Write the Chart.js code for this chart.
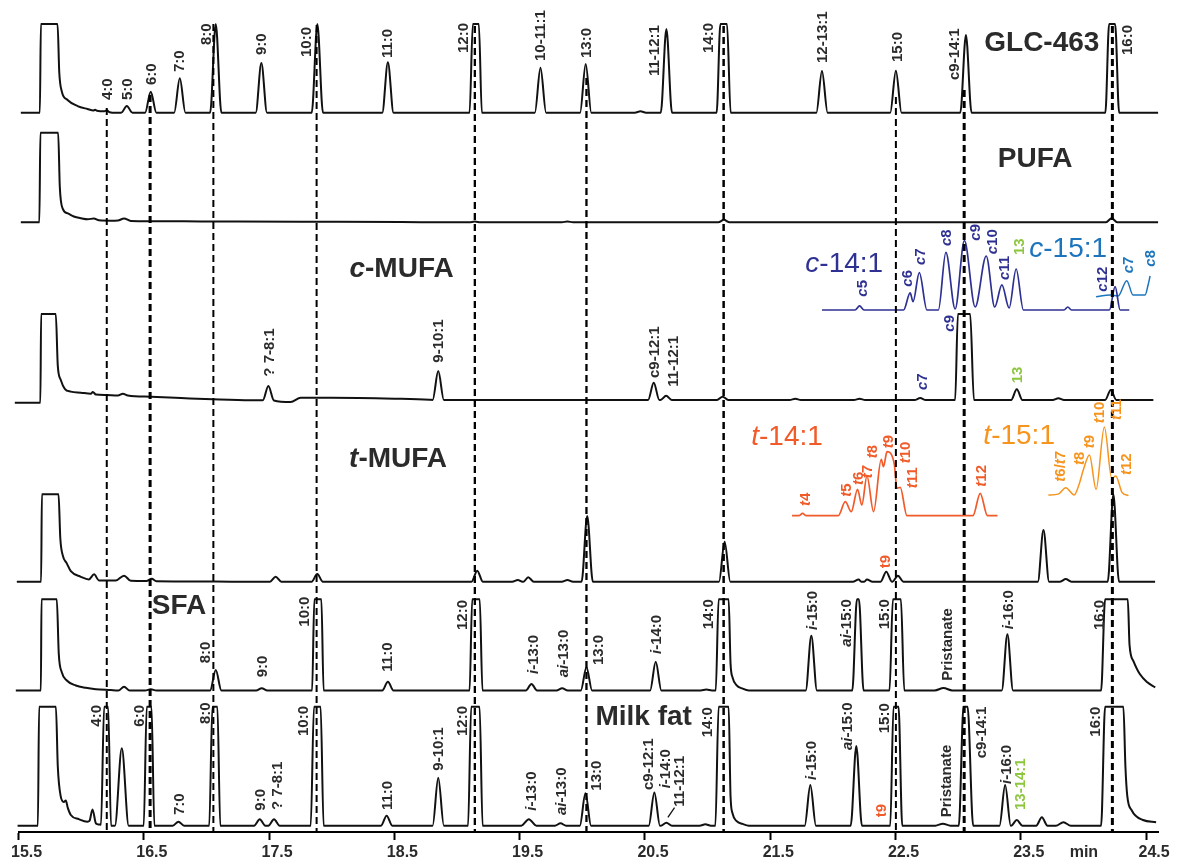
<!DOCTYPE html>
<html><head><meta charset="utf-8">
<script src="https://cdn.jsdelivr.net/npm/chart.js@4/dist/chart.umd.min.js"></script>
<style>html,body{margin:0;padding:0;background:#fff;overflow:hidden}canvas{display:block}</style>
</head><body>
<canvas id="c" width="1178" height="861"></canvas>
<script>
// ===================== DATA (retention time in min, relative intensity in % of full scale) =====================
const xTickValues = [15.5,16.5,17.5,18.5,19.5,20.5,21.5,22.5,23.5,24.5];
const xUnitLabel = 'min';
const traceNames = ['GLC-463','PUFA','c-MUFA','t-MUFA','SFA','Milk fat'];

// GLC-463 standard
const glcPoints = [[15.518,0],[15.670,0],[15.678,100],[15.811,100],[15.825,45],[15.845,24],[15.891,14.3],[15.971,7.5],[16.050,4.2],[16.098,2.6],[16.111,3.4],[16.126,2.2],[16.185,1.6],[16.204,2.8],[16.226,0.6],[16.280,0],
  [19.100,0],[19.126,100],[19.174,100],[19.198,0],
  [21.072,0],[21.102,100],[21.155,100],[21.184,0],
  [24.175,0],[24.205,100],[24.253,100],[24.285,0],[24.596,0]];
const glcPeaks = [[16.364,7.5],[16.555,23.7],[16.787,38.8],[17.074,100],[17.438,56],[17.885,100],[18.448,57],[19.666,50.7],[20.027,55],[20.464,1.5],[20.671,94.4],[21.913,47],[22.503,47.4],[23.062,87.6]];

// PUFA fraction
const pufaPoints = [[15.518,0],[15.666,0],[15.674,100],[15.816,100],[15.829,40],[15.853,15],[15.893,10],[15.941,6.5],[15.997,4.5],[16.053,3.3],[16.101,4.3],[16.141,2.2],[16.237,1.8],[16.293,2.0],[16.342,4.3],[16.396,1.5],[16.555,1.2],[16.954,1.0],[17.752,0.6],[18.552,0.3],[18.950,0],[24.596,0]];
const pufaPeaks = [[19.142,0.8],[19.881,1.0],[21.130,2.8],[24.225,4.5]];

// c-MUFA fraction
const cmufaPoints = [[15.470,-3.1],[15.674,-3.1],[15.680,100],[15.797,100],[15.813,40],[15.837,23.3],[15.869,13],[15.917,9.7],[15.997,8.5],[16.077,7.3],[16.093,9.3],[16.117,6.4],[16.196,5.8],[16.293,5.2],[16.332,7.2],[16.372,5.2],[16.555,3.8],[16.796,2.3],[17.050,0.8],[17.353,-0.3],[17.450,-0.3],[17.494,16.3],[17.538,-0.5],[17.672,-2.3],[17.752,2.5],[17.993,2.5],[18.500,1.5],[18.780,0.3],
  [22.976,0],[22.998,100],[23.096,100],[23.126,0],[24.558,0]];
const cmufaPeaks = [[18.850,33.7],[20.570,20.1],[20.669,5.0],[21.120,3.8],[21.700,1.5],[22.213,1.5],[22.697,2.3],[23.468,12.4],[23.800,2.0],[24.218,11.6]];

// c-14:1 and c-15:1 expanded traces
const c14Points = [[21.913,0],[22.177,0],[22.213,4.7],[22.249,0],[22.564,0],[22.617,19.8],[22.640,9.7],[22.690,43.4],[22.751,0],[22.842,0],[22.902,67.1],[22.976,1.2],[23.050,80.6],[23.136,3.5],[23.224,62.8],[23.292,3.5],[23.349,29.1],[23.407,2.3],[23.463,47.7],[23.521,0],[23.845,0],[23.875,3.5],[23.905,0],[24.207,0],[24.253,27.1],[24.293,0],[24.366,0]];
const c15Points = [[24.101,15.5],[24.213,17.4],[24.277,16.3],[24.346,34.1],[24.396,17.4],[24.492,17.4],[24.516,29],[24.532,39.5]];

// t-MUFA fraction
const tmufaPoints = [[15.486,0],[15.680,0],[15.686,100],[15.819,100],[15.833,50],[15.853,30],[15.885,21],[15.917,12],[15.997,5.6],[16.061,2.5],[16.103,8.4],[16.141,1.5],[16.276,1.3],[16.342,6.9],[16.396,1.0],[16.520,0.8],[16.563,3.4],[16.600,0.6],[16.954,0.3],[17.200,0],[24.572,0]];
const tmufaPeaks = [[17.552,5.7],[17.884,8.8],[19.161,12.6],[19.485,2.0],[19.568,5.0],[19.881,2.0],[20.039,75.2],[21.136,45.8],[22.205,2.5],[22.272,2.5],[22.426,11.4],[22.519,6.9],[23.681,59.1],[23.859,3.0],[24.239,100]];

// t-14:1 and t-15:1 expanded traces
const t14Points = [[21.674,0],[21.728,0],[21.758,2.7],[21.788,0],[22.043,0],[22.099,16],[22.147,4.6],[22.197,30.2],[22.231,12.2],[22.272,45.4],[22.325,4.6],[22.386,64.5],[22.404,56.1],[22.432,73.2],[22.490,59.2],[22.511,31.4],[22.538,32.5],[22.591,0],[23.118,0],[23.176,25.6],[23.234,0],[23.314,0]];
const t15Points = [[23.720,0],[23.798,1],[23.859,8.4],[23.926,0],[23.965,12],[24.000,29.1],[24.048,45.8],[24.101,6.5],[24.167,77.8],[24.226,19],[24.258,21.7],[24.308,3],[24.359,-0.8]];

// SFA fraction
const sfaPoints = [[15.478,0],[15.678,0],[15.683,100],[15.805,100],[15.821,40],[15.845,20],[15.885,11],[15.957,5.5],[16.037,3],[16.117,1.5],[16.236,0.5],[16.290,0],
  [17.843,0],[17.861,100],[17.917,100],[17.935,0],
  [19.100,0],[19.121,100],[19.181,100],[19.203,0],
  [21.065,0],[21.088,100],[21.168,100],[21.183,30],[21.200,14],[21.230,6],[21.280,2],[21.330,0],
  [22.155,0],[22.192,100],[22.208,100],[22.245,0],
  [22.452,0],[22.479,100],[22.543,100],[22.570,0],
  [24.141,0],[24.173,100],[24.354,100],[24.368,50],[24.400,32],[24.450,18],[24.510,9],[24.573,3.5]];
const sfaPeaks = [[16.342,4.2],[16.555,1.5],[17.074,22.5],[17.441,2.4],[18.448,9.6],[19.594,7.1],[19.839,2.4],[20.033,25.4],[20.586,31.6],[20.990,1.0],[21.828,60.1],[22.883,2.7,0.07],[23.393,61.6]];

// Milk fat
const milkPoints = [[15.492,0],[15.654,0],[15.664,100],[15.798,100],[15.813,50],[15.837,24.4],[15.861,20],[15.877,21.1],[15.893,15],[15.917,9],[15.981,5.5],[16.050,3.4],[16.066,4],[16.090,13.7],[16.118,1.8],[16.141,1.0],[16.158,0.8],[16.183,100],[16.215,100],[16.238,0],
  [16.499,0],[16.523,100],[16.561,100],[16.584,0],
  [17.022,0],[17.047,100],[17.087,100],[17.110,0],
  [17.832,0],[17.858,100],[17.911,100],[17.935,0],
  [19.088,0],[19.113,100],[19.180,100],[19.204,0],
  [21.062,0],[21.088,100],[21.168,100],[21.183,25],[21.200,10],[21.230,4],[21.280,1.5],[21.330,0],
  [22.458,0],[22.484,100],[22.524,100],[22.554,0],
  [23.005,0],[23.043,100],[23.075,100],[23.120,0],
  [24.141,0],[24.173,100],[24.319,100],[24.335,50],[24.350,25],[24.385,13],[24.475,4.8],[24.580,2.9]];
const milkPeaks = [[16.324,65,0.055],[16.776,3.4],[17.425,5.4],[17.539,5.4],[18.438,8.4],[18.850,40.3],[19.573,5.4,0.06],[19.826,2.0],[20.025,27.2],[20.575,28],[20.671,2.5],[20.982,1.2],[21.820,34.2],[22.187,67],[22.878,1.7,0.06],[23.375,34.2],[23.468,4.8],[23.668,7.0],[23.840,2.9,0.06]];

// reference (dashed) retention times
const refTimes = [16.204,16.550,17.055,17.879,19.142,20.033,21.128,22.503,23.048,24.231];

// ===================== LAYOUT / STYLE =====================
const FONT = '"Liberation Sans", Arial, Helvetica, sans-serif';
const Y_MAX = 832;               // y scale max (plot height)
const HW = 0.045;                // default peak half width (min)
const lay = {                    // baseline (y value) and full-scale height of each trace
  glc:{base:719.3, scale:88.7}, pufa:{base:609.7, scale:89.6}, cmufa:{base:432, scale:86},
  cins:{base:522, scale:86}, tmufa:{base:250.3, scale:87.4}, t14:{base:316.3, scale:87.4},
  t15:{base:337, scale:87.4}, sfa:{base:141.5, scale:91.2}, milk:{base:6.3, scale:119}
};
const refTopDepth = [108,95,24,25,26,78,26,97,90,26];
const refWidth = [2,3,2,2,2.3,2.3,2.5,2,3,3];
const C = {ink:'#111', txt:'#2b2b2b', navy:'#2e3192', blue:'#1c75bc', red:'#f15a29', orange:'#f7941d', green:'#8dc63f'};

function build(points, peaks){
  const pts = points.map(p=>({x:p[0], y:p[1]}));
  (peaks||[]).forEach(p=>{ const hw = p[2]||HW; pts.push({x:p[0]-hw,y:0},{x:p[0],y:p[1]},{x:p[0]+hw,y:0}); });
  pts.sort((a,b)=>a.x-b.x);
  return pts;
}
function place(pts, L){ return pts.map(p=>({x:p.x, y:L.base + p.y/100*L.scale})); }
function trace(pts, L, color, width){
  return {data:place(pts,L), borderColor:color, borderWidth:width||2, pointRadius:0, fill:false,
    cubicInterpolationMode:'monotone', clip:false, order:2};
}

const datasets = [];
refTimes.forEach((t,i)=>datasets.push({data:[{x:t,y:Y_MAX-refTopDepth[i]},{x:t,y:0}], borderColor:'#000',
  borderWidth:refWidth[i], borderDash:[7,4], pointRadius:0, fill:false, clip:false, order:0}));
datasets.push(trace(build(glcPoints,glcPeaks), lay.glc, C.ink));
datasets.push(trace(build(pufaPoints,pufaPeaks), lay.pufa, C.ink));
datasets.push(trace(build(cmufaPoints,cmufaPeaks), lay.cmufa, C.ink));
datasets.push(trace(build(c14Points), lay.cins, C.navy, 1.7));
datasets.push(trace(build(c15Points), lay.cins, C.blue, 1.5));
datasets.push(trace(build(tmufaPoints,tmufaPeaks), lay.tmufa, C.ink));
datasets.push(trace(build(t14Points), lay.t14, C.red, 1.7));
datasets.push(trace(build(t15Points), lay.t15, C.orange, 1.5));
datasets.push(trace(build(sfaPoints,sfaPeaks), lay.sfa, C.ink));
datasets.push(trace(build(milkPoints,milkPeaks), lay.milk, C.ink));

// ---- annotation texts: [text, retention time, depth of text end below plot top] ; _x_ = italic part
const peakLabels = [
  {color:C.txt, items:[["4:0",16.204,100],["5:0",16.364,100],["6:0",16.555,85],["7:0",16.779,72],["8:0",16.994,45],["9:0",17.433,55],["10:0",17.792,57],["11:0",18.438,58],["12:0",19.044,53],["10-11:1",19.658,61],["13:0",20.025,58],["11-12:1",20.565,76],["14:0",20.998,53],["12-13:1",21.913,63],["15:0",22.506,62],["c9-14:1",22.960,80],["16:0",24.348,55],
    ["? 7-8:1",17.494,376.7],["9-10:1",18.847,362.7],["c9-12:1",20.565,378],["11-12:1",20.719,386.7],
    ["8:0",16.988,663.3],["9:0",17.441,677.3],["10:0",17.773,626.7],["11:0",18.438,671.7],["12:0",19.036,630],["_i_-13:0",19.600,674],["_ai_-13:0",19.844,677.3],["13:0",20.118,665],["_i_-14:0",20.586,654],["14:0",21.001,629.3],["_i_-15:0",21.833,630],["_ai_-15:0",22.099,646.7],["15:0",22.404,629.3],["Pristanate",22.904,680.7],["_i_-16:0",23.393,629.3],["16:0",24.119,630],
    ["4:0",16.111,726.7],["6:0",16.462,726.7],["7:0",16.781,815],["8:0",16.986,724],["9:0",17.425,810.7],["? 7-8:1",17.560,810],["10:0",17.765,736],["11:0",18.438,810],["9-10:1",18.842,770.7],["12:0",19.034,736],["_i_-13:0",19.586,810.7],["_ai_-13:0",19.826,815],["13:0",20.105,790.7],["c9-12:1",20.522,790],["_i_-14:0",20.655,788.3],["11-12:1",20.769,806.7],["14:0",20.996,737.3],["_i_-15:0",21.820,780],["_ai_-15:0",22.112,750],["15:0",22.404,733.3],["Pristanate",22.896,817.3],["c9-14:1",23.176,758.3],["_i_-16:0",23.375,784],["16:0",24.093,736.7]]},
  {color:C.navy, items:[["_c_5",22.232,296.7],["_c_6",22.591,286.7],["_c_7",22.690,265],["_c_8",22.902,246],["_c_9",23.133,240.7],["_c_10",23.269,254.3],["_c_11",23.362,280],["_c_12",24.146,291.7],["_c_9",22.923,331.7],["_c_7",22.711,390]]},
  {color:C.blue, items:[["_c_7",24.351,273.3],["_c_8",24.532,266.7]]},
  {color:C.green, items:[["13",23.482,255],["13",23.468,383.3],["13-14:1",23.489,810]]},
  {color:C.red, items:[["_t_4",21.774,506],["_t_5",22.099,496.7],["_t_6",22.197,485],["_t_7",22.272,478.3],["_t_8",22.312,458.3],["_t_9",22.436,448.3],["_t_10",22.572,463.3],["_t_11",22.631,488.3],["_t_12",23.181,486.7],["t9",22.410,568.3],["t9",22.378,817.3]]},
  {color:C.orange, items:[["_t_6/_t_7",23.808,481.7],["_t_8",23.960,465],["_t_9",24.040,448.3],["_t_10",24.119,423.3],["_t_11",24.253,420],["_t_12",24.340,475]]}
];
// titles: [text, centre time, centre depth, colour, weight]
const titles = [["GLC-463",23.668,40.7,C.txt,'bold'],["PUFA",23.614,157,C.txt,'bold'],["_c_-MUFA",18.557,267,C.txt,'bold'],["_t_-MUFA",18.529,457.3,C.txt,'bold'],["SFA",16.781,604,C.txt,'bold'],["Milk fat",20.490,715,C.txt,'bold'],
  ["_c_-14:1",22.091,261.7,C.navy,'normal'],["_c_-15:1",23.878,247.3,C.blue,'normal'],["_t_-14:1",21.634,435,C.red,'normal'],["_t_-15:1",23.487,434,C.orange,'normal']];
const leader = [[20.736,807.7],[20.683,817.3]];

function drawRich(ctx, str, x, y, o){
  const parts = str.split('_');
  const f = i => `${i%2?'italic ':''}${o.weight} ${o.size}px ${FONT}`;
  const w = parts.map((p,i)=>{ctx.font=f(i); return ctx.measureText(p).width;});
  const total = w.reduce((a,b)=>a+b,0);
  ctx.save(); ctx.translate(x,y); if(o.rot) ctx.rotate(-Math.PI/2);
  ctx.fillStyle=o.color; ctx.textAlign='left'; ctx.textBaseline='alphabetic';
  let cx = o.rot?0:-total/2; const by = 0.36*o.size;
  parts.forEach((p,i)=>{ctx.font=f(i); ctx.fillText(p,cx,by); cx+=w[i];});
  ctx.restore();
}
const textPlugin = {id:'texts', afterDatasetsDraw(chart){
  const {ctx, scales:{x,y}} = chart;
  const X = t=>x.getPixelForValue(t), Y = d=>y.getPixelForValue(Y_MAX-d);
  peakLabels.forEach(g=>g.items.forEach(it=>drawRich(ctx,it[0],X(it[1]),Y(it[2]),{rot:true,size:15,weight:'bold',color:g.color})));
  titles.forEach(t=>drawRich(ctx,t[0],X(t[1]),Y(t[2]),{rot:false,size:28,weight:t[4],color:t[3]}));
  ctx.save(); ctx.strokeStyle='#111'; ctx.lineWidth=1.3; ctx.beginPath();
  ctx.moveTo(X(leader[0][0]),Y(leader[0][1])); ctx.lineTo(X(leader[1][0]),Y(leader[1][1])); ctx.stroke(); ctx.restore();
}};

const MIN_TICK = 23.94;
new Chart(document.getElementById('c'), {
  type:'line',
  data:{datasets},
  options:{
    responsive:false, animation:false, devicePixelRatio:1, events:[],
    layout:{padding:{left:18, right:19.4, top:0, bottom:0}},
    plugins:{legend:{display:false}, tooltip:{enabled:false}},
    scales:{
      x:{type:'linear', min:15.5, max:24.6,
        afterBuildTicks:s=>{ s.ticks = xTickValues.slice(0,9).concat([MIN_TICK, xTickValues[9]]).map(v=>({value:v})); },
        afterFit:s=>{ s.height = 29; },
        ticks:{autoSkip:false, maxRotation:0, minRotation:0, labelOffset:8, padding:3, color:'#2b2b2b',
          font:{family:FONT, size:16, weight:'bold'},
          callback:v=> v===MIN_TICK ? xUnitLabel : Number(v).toFixed(1)},
        grid:{drawOnChartArea:false, drawTicks:true, tickLength:8, tickWidth:2,
          tickColor:c=> (c.tick && c.tick.value===MIN_TICK) ? 'rgba(0,0,0,0)' : '#000'},
        border:{display:true, color:'#000', width:2}},
      y:{display:false, min:0, max:Y_MAX}
    }
  },
  plugins:[textPlugin]
});
</script>
</body></html>
